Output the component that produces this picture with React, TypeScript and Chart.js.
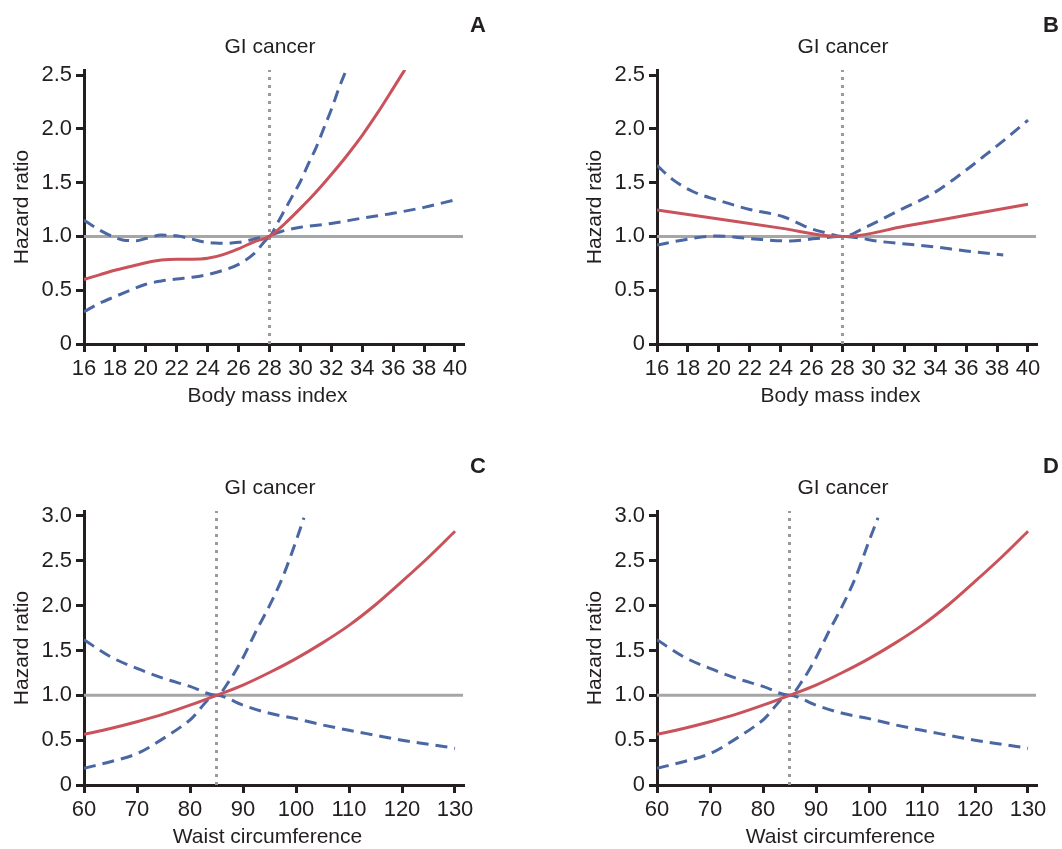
import { useEffect, useRef } from "react";
import { Chart, registerables } from "chart.js";

Chart.register(...registerables);

// ---------- text ----------
const panelTitle = "GI cancer";
const yAxisTitle = "Hazard ratio";
const bmiAxisTitle = "Body mass index";
const waistAxisTitle = "Waist circumference";

// ---------- ticks ----------
const bmiTicks = [16, 18, 20, 22, 24, 26, 28, 30, 32, 34, 36, 38, 40];
const waistTicks = [60, 70, 80, 90, 100, 110, 120, 130];
const hrTicksBmi = [0, 0.5, 1, 1.5, 2, 2.5];
const hrLabelsBmi = ["0", "0.5", "1.0", "1.5", "2.0", "2.5"];
const hrTicksWaist = [0, 0.5, 1, 1.5, 2, 2.5, 3];
const hrLabelsWaist = ["0", "0.5", "1.0", "1.5", "2.0", "2.5", "3.0"];

// reference values
const bmiRef = 28;
const waistRef = 85;
const hrRef = 1;

// ---------- Panel A (BMI) ----------
const aRedX = [16, 17, 18, 19, 20, 21, 22, 23, 24, 25, 26, 27, 28, 29, 30, 31, 32, 33, 34, 35, 36, 36.76];
const aRedY = [0.6, 0.643, 0.685, 0.72, 0.755, 0.78, 0.788, 0.788, 0.796, 0.83, 0.885, 0.95, 1.0, 1.12, 1.26, 1.41, 1.575, 1.75, 1.94, 2.15, 2.376, 2.55];
const aUpperX = [16, 17, 18, 18.5, 19.4, 20, 21, 22, 23, 23.7, 24.5, 25.2, 26, 26.5, 27, 27.5, 28, 28.5, 29, 29.5, 30, 30.5, 31, 31.5, 32, 32.5, 33];
const aUpperY = [1.15, 1.06, 0.99, 0.967, 0.96, 0.98, 1.012, 1.005, 0.975, 0.95, 0.938, 0.936, 0.945, 0.957, 0.975, 0.99, 1.0, 1.12, 1.25, 1.38, 1.51, 1.67, 1.82, 2.0, 2.18, 2.38, 2.56];
const aLowerX = [16, 17, 18, 19, 20, 21, 22, 23, 24, 25, 26, 27, 28, 29, 30, 32, 34, 36, 38, 40];
const aLowerY = [0.3, 0.378, 0.44, 0.5, 0.555, 0.585, 0.605, 0.62, 0.645, 0.685, 0.74, 0.84, 1.0, 1.055, 1.085, 1.12, 1.17, 1.215, 1.27, 1.34];

// ---------- Panel B (BMI) ----------
const bRedX = [16, 20, 24, 27.7, 28.3, 32, 36, 40];
const bRedY = [1.245, 1.161, 1.077, 1.0, 1.0, 1.094, 1.196, 1.298];
const bUpperX = [16, 17, 18.35, 19.86, 22, 24.17, 25.9, 27, 28, 29.56, 31.7, 33.87, 36, 37.1, 38.5, 40];
const bUpperY = [1.66, 1.53, 1.415, 1.34, 1.25, 1.183, 1.075, 1.03, 1.0, 1.09, 1.245, 1.4, 1.617, 1.74, 1.9, 2.08];
const bLowerX = [16, 18, 19.86, 22, 24.6, 26.3, 28, 30.6, 33.87, 36, 38.4];
const bLowerY = [0.92, 0.975, 1.004, 0.98, 0.957, 0.98, 1.0, 0.95, 0.904, 0.865, 0.827];

// ---------- Panel C (waist) ----------
const cRedX = [60, 65, 70, 75, 80, 85, 90, 95, 100, 105, 110, 115, 120, 125, 130];
const cRedY = [0.565, 0.63, 0.705, 0.79, 0.89, 1.0, 1.115, 1.255, 1.41, 1.585, 1.78, 2.01, 2.27, 2.54, 2.83];
const cUpperX = [60, 65, 70, 75, 80, 85, 87.5, 90, 92.5, 95, 97.5, 100, 101.5];
const cUpperY = [1.62, 1.43, 1.3, 1.19, 1.1, 1.0, 1.17, 1.42, 1.72, 2.0, 2.32, 2.72, 2.98];
const cLowerX = [60, 65, 70, 75, 80, 85, 90, 95, 100, 105, 110, 115, 120, 125, 130];
const cLowerY = [0.186, 0.26, 0.35, 0.52, 0.725, 1.0, 0.89, 0.8, 0.74, 0.67, 0.61, 0.555, 0.5, 0.455, 0.41];

// ---------- Panel D (waist) ----------
const dRedX = [60, 65, 70, 75, 80, 85, 90, 95, 100, 105, 110, 115, 120, 125, 130];
const dRedY = [0.565, 0.63, 0.705, 0.79, 0.89, 1.0, 1.115, 1.255, 1.41, 1.585, 1.78, 2.01, 2.27, 2.54, 2.83];
const dUpperX = [60, 65, 70, 75, 80, 85, 87.5, 90, 92.5, 95, 97.5, 100, 101.7];
const dUpperY = [1.62, 1.43, 1.3, 1.19, 1.1, 1.0, 1.17, 1.42, 1.72, 2.0, 2.32, 2.72, 2.98];
const dLowerX = [60, 65, 70, 75, 80, 85, 90, 95, 100, 105, 110, 115, 120, 125, 130];
const dLowerY = [0.186, 0.26, 0.35, 0.52, 0.725, 1.0, 0.89, 0.8, 0.74, 0.67, 0.61, 0.555, 0.5, 0.455, 0.41];

// ---------- styling / layout ----------
const AXIS = "#231f20";
const RED = "#c9525b";
const BLUE = "#4a67a3";
const GRAY = "#a6a6a6";
const DOT = "#9a9a9a";
const FONT = '"Liberation Sans", Arial, sans-serif';
const TICK_FONT = '"Liberation Sans", Arial, sans-serif';

const CW = 489;
const CH = 408;
const AREA_L = 84;
const AREA_R = 463;
const AREA_T = 70;
const AREA_B = 344;
const LAST_TICK_PX = 455;
const TOP_TICK_PX = 75;

type Panel = {
  letter: string;
  left: number;
  top: number;
  xTicks: number[];
  yTicks: number[];
  yLabels: string[];
  xTitle: string;
  refX: number;
  redX: number[];
  redY: number[];
  upX: number[];
  upY: number[];
  loX: number[];
  loY: number[];
};

const panels: Panel[] = [
  { letter: "A", left: 0, top: 0, xTicks: bmiTicks, yTicks: hrTicksBmi, yLabels: hrLabelsBmi, xTitle: bmiAxisTitle, refX: bmiRef, redX: aRedX, redY: aRedY, upX: aUpperX, upY: aUpperY, loX: aLowerX, loY: aLowerY },
  { letter: "B", left: 573, top: 0, xTicks: bmiTicks, yTicks: hrTicksBmi, yLabels: hrLabelsBmi, xTitle: bmiAxisTitle, refX: bmiRef, redX: bRedX, redY: bRedY, upX: bUpperX, upY: bUpperY, loX: bLowerX, loY: bLowerY },
  { letter: "C", left: 0, top: 441, xTicks: waistTicks, yTicks: hrTicksWaist, yLabels: hrLabelsWaist, xTitle: waistAxisTitle, refX: waistRef, redX: cRedX, redY: cRedY, upX: cUpperX, upY: cUpperY, loX: cLowerX, loY: cLowerY },
  { letter: "D", left: 573, top: 441, xTicks: waistTicks, yTicks: hrTicksWaist, yLabels: hrLabelsWaist, xTitle: waistAxisTitle, refX: waistRef, redX: dRedX, redY: dRedY, upX: dUpperX, upY: dUpperY, loX: dLowerX, loY: dLowerY },
];

const pts = (xs: number[], ys: number[]) => xs.map((x, i) => ({ x, y: ys[i] }));

function PanelChart({ p }: { p: Panel }) {
  const ref = useRef<HTMLCanvasElement | null>(null);
  useEffect(() => {
    if (!ref.current) return;
    const xMin = p.xTicks[0];
    const xLast = p.xTicks[p.xTicks.length - 1];
    const xMax = xMin + ((xLast - xMin) * (AREA_R - AREA_L)) / (LAST_TICK_PX - AREA_L);
    const yLast = p.yTicks[p.yTicks.length - 1];
    const yMax = (yLast * (AREA_B - AREA_T)) / (AREA_B - TOP_TICK_PX);

    const textPlugin = {
      id: "panelText",
      afterDraw(chart: any) {
        const ctx = chart.ctx;
        ctx.save();
        ctx.fillStyle = AXIS;
        ctx.font = `21px ${FONT}`;
        ctx.textAlign = "center";
        ctx.textBaseline = "middle";
        ctx.fillText(panelTitle, 270, 47);
        ctx.fillText(p.xTitle, 267.5, 396);
        ctx.font = `bold 22px ${FONT}`;
        ctx.textAlign = "left";
        ctx.fillText(p.letter, 470, 26);
        ctx.restore();
      },
    };

    const dashed = [12, 7];

    const chart = new Chart(ref.current, {
      type: "line",
      data: {
        datasets: [
          {
            data: pts(p.redX, p.redY),
            borderColor: RED,
            borderWidth: 3,
            cubicInterpolationMode: "monotone",
            pointRadius: 0,
          },
          {
            data: pts(p.upX, p.upY),
            borderColor: BLUE,
            borderWidth: 3,
            borderDash: dashed,
            cubicInterpolationMode: "monotone",
            pointRadius: 0,
          },
          {
            data: pts(p.loX, p.loY),
            borderColor: BLUE,
            borderWidth: 3,
            borderDash: dashed,
            cubicInterpolationMode: "monotone",
            pointRadius: 0,
          },
          {
            data: [
              { x: xMin, y: hrRef },
              { x: xMax, y: hrRef },
            ],
            borderColor: GRAY,
            borderWidth: 3,
            pointRadius: 0,
          },
          {
            data: [
              { x: p.refX, y: 0 },
              { x: p.refX, y: yMax },
            ],
            borderColor: DOT,
            borderWidth: 3,
            borderDash: [3, 5],
            pointRadius: 0,
          },
        ] as any,
      },
      options: {
        animation: false,
        responsive: false,
        layout: { padding: { left: 0, right: CW - AREA_R, top: AREA_T, bottom: 0 } },
        plugins: { legend: { display: false }, tooltip: { enabled: false }, title: { display: false } },
        scales: {
          x: {
            type: "linear",
            min: xMin,
            max: xMax,
            afterFit(s: any) {
              s.height = CH - AREA_B;
            },
            afterBuildTicks(s: any) {
              s.ticks = p.xTicks.map((v) => ({ value: v }));
            },
            border: { display: true, color: AXIS, width: 3 },
            grid: { drawOnChartArea: false, drawTicks: true, tickLength: 8, color: AXIS, lineWidth: 3 },
            ticks: {
              autoSkip: false,
              maxRotation: 0,
              padding: 4,
              color: AXIS,
              font: { family: TICK_FONT, size: 22 },
              callback: (v: any) => String(v),
            },
          },
          y: {
            type: "linear",
            min: 0,
            max: yMax,
            afterFit(s: any) {
              s.width = AREA_L;
            },
            afterBuildTicks(s: any) {
              s.ticks = p.yTicks.map((v) => ({ value: v }));
            },
            border: { display: true, color: AXIS, width: 3 },
            grid: { drawOnChartArea: false, drawTicks: true, tickLength: 8, color: AXIS, lineWidth: 3 },
            ticks: {
              autoSkip: false,
              padding: 4,
              color: AXIS,
              font: { family: TICK_FONT, size: 22 },
              callback: (_v: any, i: number) => p.yLabels[i],
            },
            title: {
              display: true,
              text: yAxisTitle,
              color: AXIS,
              font: { family: FONT, size: 21 },
              padding: { top: 9.5, bottom: 0 },
            },
          },
        },
      } as any,
      plugins: [textPlugin],
    });
    return () => chart.destroy();
  }, [p]);

  return (
    <canvas
      ref={ref}
      width={CW}
      height={CH}
      style={{ position: "absolute", left: p.left, top: p.top, width: CW, height: CH }}
    />
  );
}

export default function App() {
  return (
    <div
      style={{
        position: "absolute",
        left: 0,
        top: 0,
        width: 1062,
        height: 849,
        overflow: "hidden",
        background: "#ffffff",
      }}
    >
      {panels.map((p) => (
        <PanelChart key={p.letter} p={p} />
      ))}
    </div>
  );
}
